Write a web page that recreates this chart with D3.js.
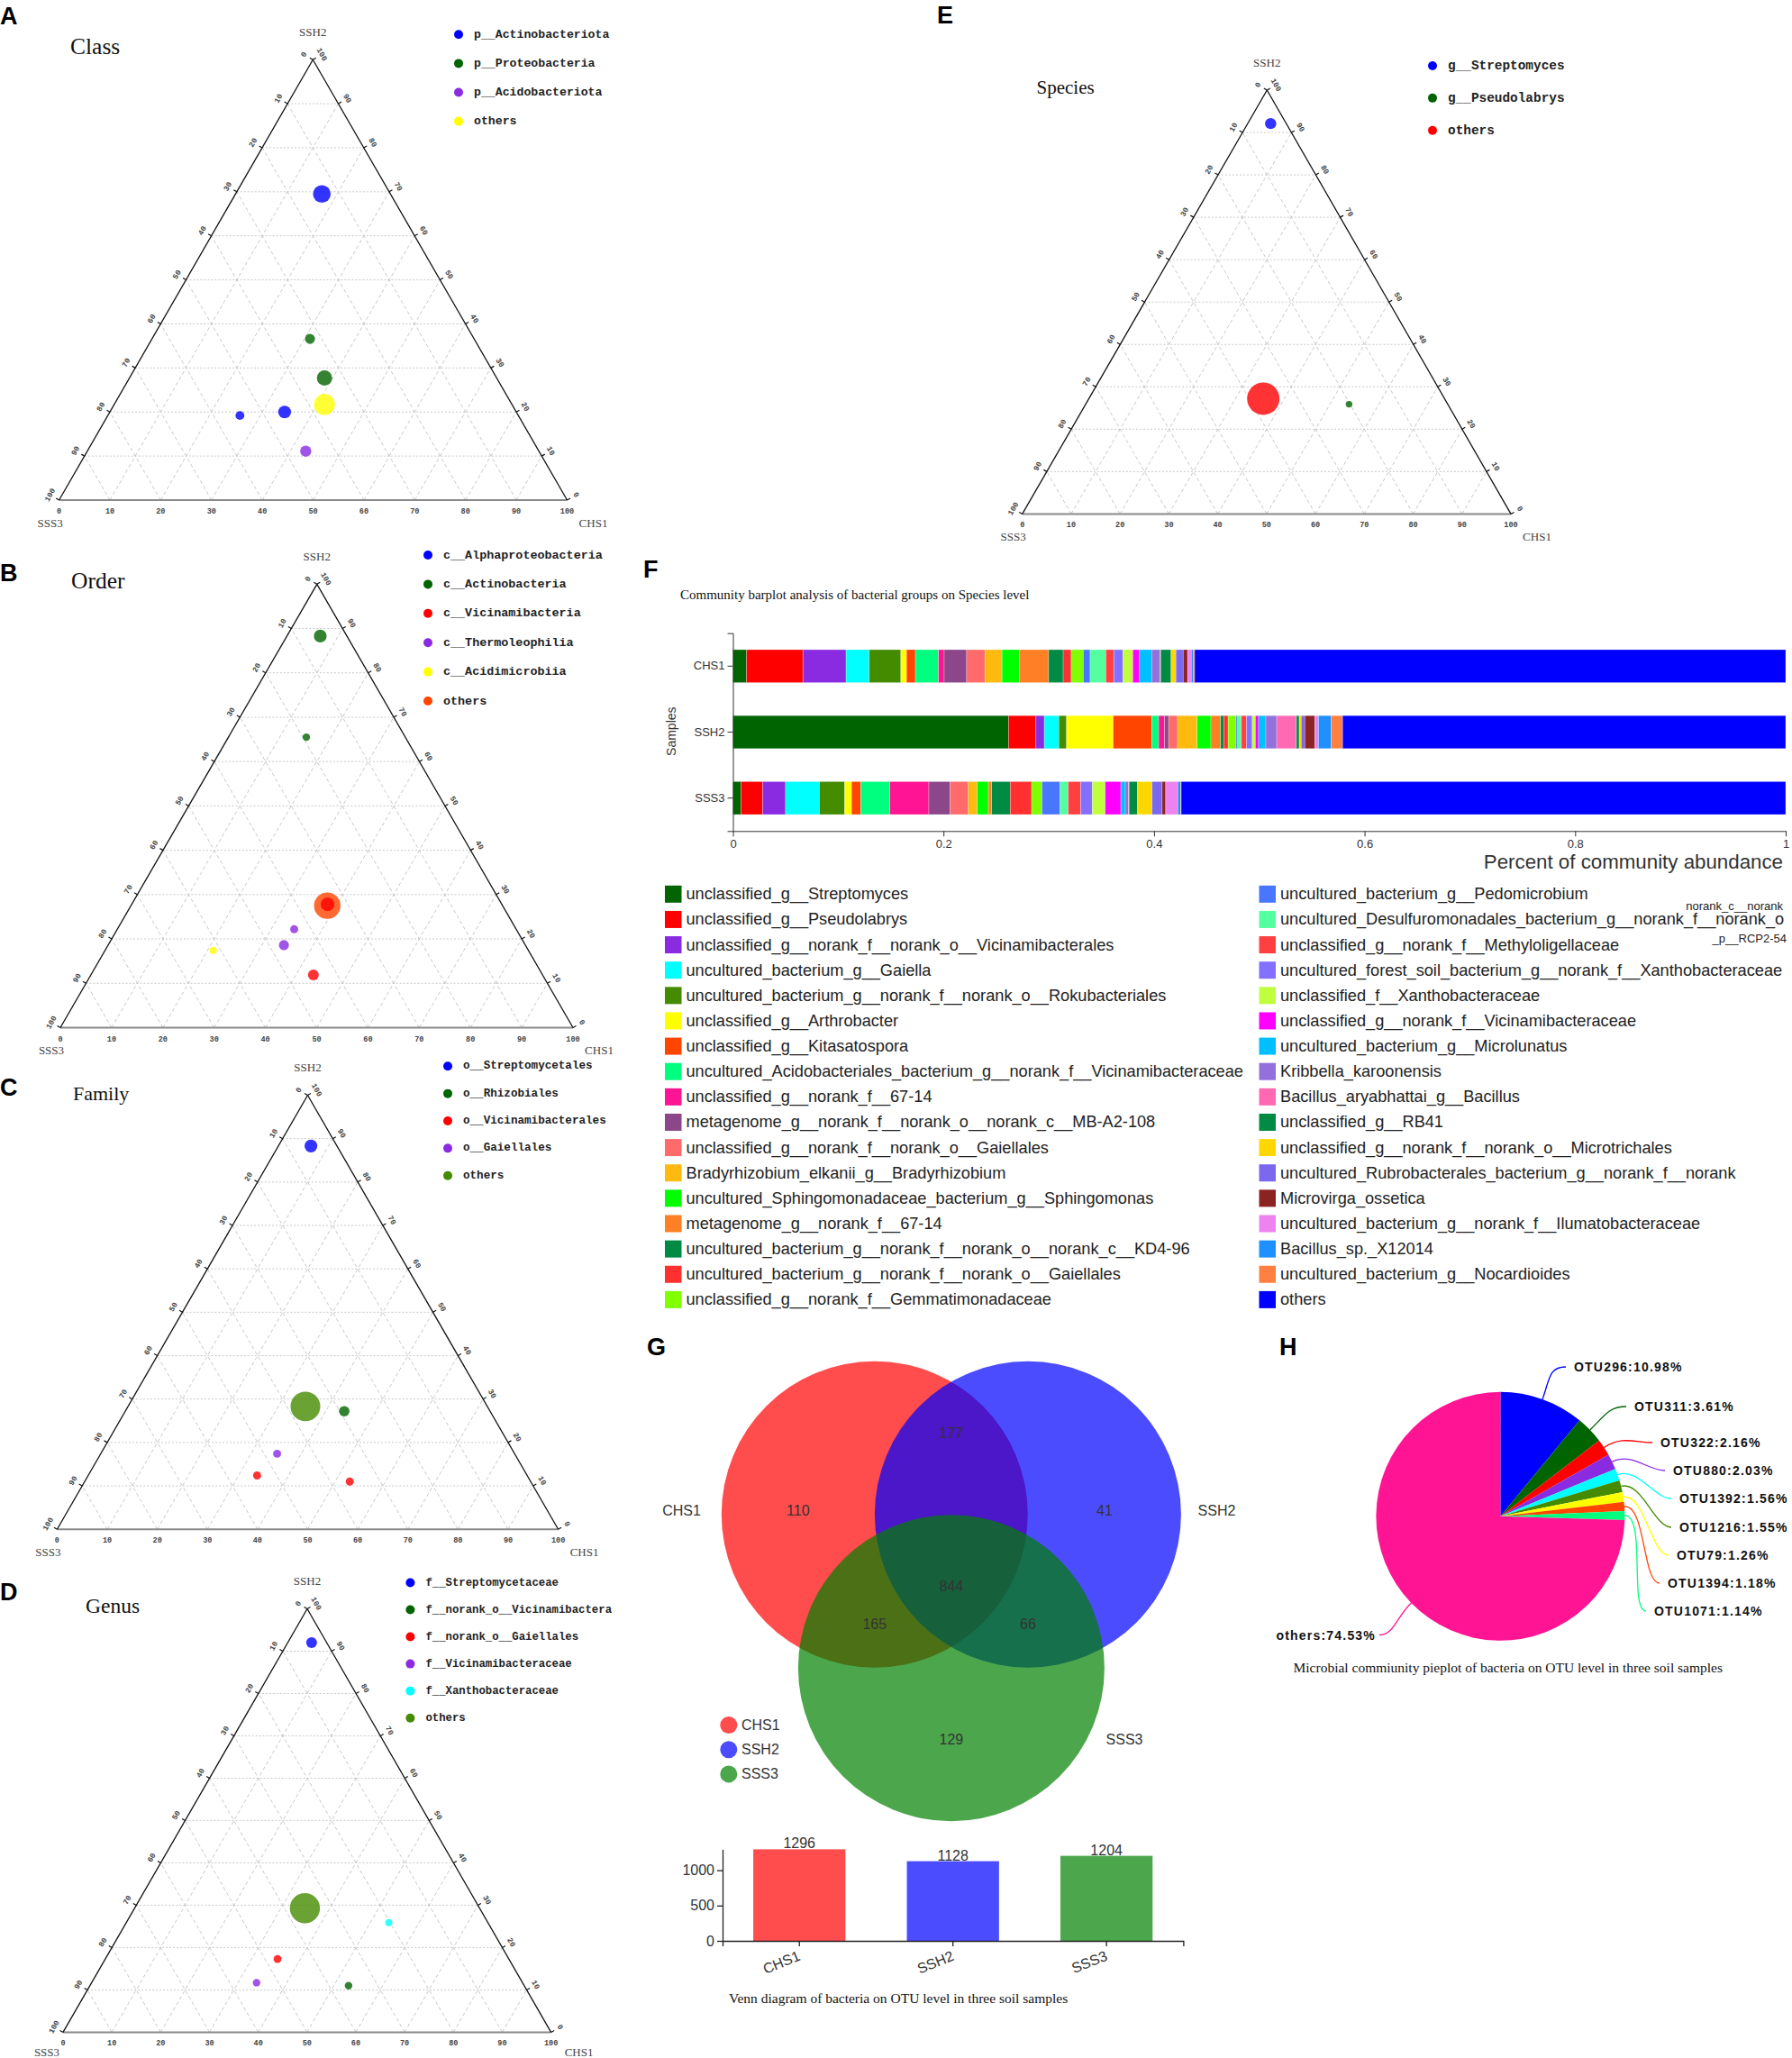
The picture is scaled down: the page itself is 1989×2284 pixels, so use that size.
<!DOCTYPE html>
<html><head><meta charset="utf-8">
<script src="https://cdn.jsdelivr.net/npm/d3@7"></script>
<style>
html,body{margin:0;padding:0;background:#fff;}
svg{display:block;}
</style></head><body>
<svg id="fig" width="1989" height="2284"></svg>
<script>
// ===================== DATA =====================
// --- Ternary panels: group names, and points (percent in CHS1 / SSH2 / SSS3, relative abundance) ---
const classGroups = ["p__Actinobacteriota","p__Proteobacteria","p__Acidobacteriota","others"];
const classPoints = [
  {group:"p__Actinobacteriota", CHS1:17.0, SSH2:69.5, SSS3:13.5, abundance:24},
  {group:"p__Proteobacteria",   CHS1:31.1, SSH2:36.6, SSS3:32.3, abundance:7.8},
  {group:"p__Proteobacteria",   CHS1:38.4, SSH2:27.7, SSS3:33.9, abundance:18},
  {group:"others",              CHS1:41.4, SSH2:21.7, SSS3:36.9, abundance:33.6},
  {group:"p__Actinobacteriota", CHS1:26.0, SSH2:19.2, SSS3:54.8, abundance:6},
  {group:"p__Actinobacteriota", CHS1:34.4, SSH2:20.0, SSS3:45.6, abundance:12.6},
  {group:"p__Acidobacteriota",  CHS1:43.0, SSH2:11.1, SSS3:45.9, abundance:9.6}
];
const orderGroups = ["c__Alphaproteobacteria","c__Actinobacteria","c__Vicinamibacteria","c__Thermoleophilia","c__Acidimicrobiia","others"];
const orderPoints = [
  {group:"c__Actinobacteria",   CHS1:6.5,  SSH2:88.3, SSS3:5.2,  abundance:12.6},
  {group:"c__Actinobacteria",   CHS1:15.2, SSH2:65.5, SSS3:19.3, abundance:4.4},
  {group:"others",              CHS1:38.3, SSH2:27.5, SSS3:34.2, abundance:54},
  {group:"c__Vicinamibacteria", CHS1:38.2, SSH2:27.8, SSS3:34.0, abundance:14.4},
  {group:"c__Thermoleophilia",  CHS1:34.5, SSH2:22.2, SSS3:43.3, abundance:5},
  {group:"c__Thermoleophilia",  CHS1:34.3, SSH2:18.6, SSS3:47.1, abundance:7.8},
  {group:"c__Acidimicrobiia",   CHS1:21.1, SSH2:17.4, SSS3:61.5, abundance:4.4},
  {group:"c__Vicinamibacteria", CHS1:43.4, SSH2:11.9, SSS3:44.7, abundance:9}
];
const familyGroups = ["o__Streptomycetales","o__Rhizobiales","o__Vicinamibacterales","o__Gaiellales","others"];
const familyPoints = [
  {group:"o__Streptomycetales",   CHS1:6.5,  SSH2:88.3, SSS3:5.2,  abundance:12.6},
  {group:"others",                CHS1:35.4, SSH2:28.3, SSS3:36.3, abundance:68},
  {group:"o__Rhizobiales",        CHS1:43.7, SSH2:27.2, SSS3:29.1, abundance:8.4},
  {group:"o__Gaiellales",         CHS1:35.2, SSH2:17.4, SSS3:47.4, abundance:5},
  {group:"o__Vicinamibacterales", CHS1:33.7, SSH2:12.4, SSS3:53.9, abundance:5},
  {group:"o__Vicinamibacterales", CHS1:52.9, SSH2:11.0, SSS3:36.1, abundance:5}
];
const genusGroups = ["f__Streptomycetaceae","f__norank_o__Vicinamibactera","f__norank_o__Gaiellales","f__Vicinamibacteraceae","f__Xanthobacteraceae","others"];
const genusPoints = [
  {group:"f__Streptomycetaceae",         CHS1:4.9,  SSH2:92.0, SSS3:3.1,  abundance:9},
  {group:"others",                       CHS1:34.9, SSH2:29.3, SSS3:35.8, abundance:70},
  {group:"f__Xanthobacteraceae",         CHS1:53.8, SSH2:25.9, SSS3:20.3, abundance:4},
  {group:"f__norank_o__Gaiellales",      CHS1:35.3, SSH2:17.3, SSS3:47.4, abundance:5},
  {group:"f__Vicinamibacteraceae",       CHS1:33.8, SSH2:11.7, SSS3:54.5, abundance:4.4},
  {group:"f__norank_o__Vicinamibactera", CHS1:53.0, SSH2:11.0, SSS3:36.0, abundance:4.4}
];
const speciesGroups = ["g__Streptomyces","g__Pseudolabrys","others"];
const speciesPoints = [
  {group:"g__Streptomyces", CHS1:4.7,  SSH2:92.1, SSS3:3.2,  abundance:9.6},
  {group:"others",          CHS1:35.7, SSH2:27.2, SSS3:37.1, abundance:81},
  {group:"g__Pseudolabrys", CHS1:53.9, SSH2:25.9, SSS3:20.2, abundance:3.4}
];
const ternaryTicks = [0,10,20,30,40,50,60,70,80,90,100];

// --- Panel F: community barplot ---
const sampleNames = ["CHS1","SSH2","SSS3"];
const speciesNames = [
  "unclassified_g__Streptomyces","unclassified_g__Pseudolabrys","unclassified_g__norank_f__norank_o__Vicinamibacterales",
  "uncultured_bacterium_g__Gaiella","uncultured_bacterium_g__norank_f__norank_o__Rokubacteriales","unclassified_g__Arthrobacter",
  "unclassified_g__Kitasatospora","uncultured_Acidobacteriales_bacterium_g__norank_f__Vicinamibacteraceae","unclassified_g__norank_f__67-14",
  "metagenome_g__norank_f__norank_o__norank_c__MB-A2-108","unclassified_g__norank_f__norank_o__Gaiellales","Bradyrhizobium_elkanii_g__Bradyrhizobium",
  "uncultured_Sphingomonadaceae_bacterium_g__Sphingomonas","metagenome_g__norank_f__67-14","uncultured_bacterium_g__norank_f__norank_o__norank_c__KD4-96",
  "uncultured_bacterium_g__norank_f__norank_o__Gaiellales","unclassified_g__norank_f__Gemmatimonadaceae",
  "uncultured_bacterium_g__Pedomicrobium","uncultured_Desulfuromonadales_bacterium_g__norank_f__norank_o__norank_c__norank_p__RCP2-54",
  "unclassified_g__norank_f__Methyloligellaceae","uncultured_forest_soil_bacterium_g__norank_f__Xanthobacteraceae","unclassified_f__Xanthobacteraceae",
  "unclassified_g__norank_f__Vicinamibacteraceae","uncultured_bacterium_g__Microlunatus","Kribbella_karoonensis","Bacillus_aryabhattai_g__Bacillus",
  "unclassified_g__RB41","unclassified_g__norank_f__norank_o__Microtrichales","uncultured_Rubrobacterales_bacterium_g__norank_f__norank",
  "Microvirga_ossetica","uncultured_bacterium_g__norank_f__Ilumatobacteraceae","Bacillus_sp._X12014","uncultured_bacterium_g__Nocardioides","others"
];
const chs1Abund = [0.013,0.0535,0.041,0.022,0.030,0.0054,0.0084,0.022,0.0054,0.0213,0.0176,0.016,0.0168,0.0275,0.0138,0.0076,0.0115,
  0.0065,0.0149,0.0076,0.0088,0.0092,0.0065,0.0115,0.008,0.0005,0.0099,0.0046,0.0069,0.0042,0.0035,0.002,0.0012,0.5614];
const ssh2Abund = [0.2618,0.026,0.008,0.0138,0.0073,0.0443,0.0367,0.0065,0.0057,0.0038,0.0084,0.0187,0.013,0.0092,0.003,0.0042,0.0076,
  0.0015,0.0034,0.005,0.0054,0.003,0.003,0.0069,0.0103,0.0187,0.0027,0.0019,0.0034,0.0096,0.0034,0.0122,0.0107,0.4209];
const sss3Abund = [0.0076,0.0206,0.0218,0.0321,0.0241,0.0065,0.0088,0.0275,0.0371,0.0203,0.0172,0.0084,0.0107,0.0031,0.0176,0.0203,0.0099,
  0.0172,0.0076,0.0119,0.0111,0.0122,0.0149,0.0042,0.0031,0.0005,0.008,0.0138,0.0096,0.0034,0.0115,0.0027,0.0005,0.5742];
const barTicks = [0,0.2,0.4,0.6,0.8,1];

// --- Panel G: Venn ---
const vennSets = ["CHS1","SSH2","SSS3"];
const vennRegions = ["CHS1","SSH2","SSS3","CHS1&SSH2","CHS1&SSS3","SSH2&SSS3","CHS1&SSH2&SSS3"];
const vennCounts = [110,41,129,177,165,66,844];
const setTotals = [1296,1128,1204];
const setTicks = [0,500,1000];

// --- Panel H: pie ---
const otuNames = ["OTU296","OTU311","OTU322","OTU880","OTU1392","OTU1216","OTU79","OTU1394","OTU1071","others"];
const otuPercent = [10.98,3.61,2.16,2.03,1.56,1.55,1.26,1.18,1.14,74.53];

// ===================== STYLES =====================
const classColors = ["#0000FF","#006400","#8A2BE2","#FFFF00"];
const orderColors = ["#0000FF","#006400","#FF0000","#8A2BE2","#FFFF00","#FF4500"];
const familyColors = ["#0000FF","#006400","#FF0000","#8A2BE2","#458B00"];
const genusColors = ["#0000FF","#006400","#FF0000","#8A2BE2","#00FFFF","#458B00"];
const speciesColorsE = ["#0000FF","#006400","#FF0000"];
const speciesColors = ["#006400","#FF0000","#8A2BE2","#00FFFF","#458B00","#FFFF00","#FF4500","#00FF7F","#FF1493","#8B4789",
  "#FF6A6A","#FFB90F","#00FF00","#FF7F24","#008B45","#FF3030","#7FFF00","#4876FF","#54FF9F","#FF4040","#8470FF","#C0FF3E",
  "#FF00FF","#00BFFF","#9370DB","#FF69B4","#008B45","#FFD700","#7B68EE","#8B2323","#EE82EE","#1E90FF","#FF8040","#0000FF"];
const vennColors = ["#FF0000","#0000FF","#008000"];
const otuColors = ["#0000FF","#006400","#FF0000","#8A2BE2","#00FFFF","#458B00","#FFFF00","#FF4500","#00FF7F","#FF1493"];

const SANS = "'Liberation Sans', Arial, sans-serif";
const SERIF = "'Liberation Serif', 'Times New Roman', serif";
const MONO = "'Liberation Mono', 'DejaVu Sans Mono', monospace";

const svg = d3.select("#fig");

// ===================== TERNARY =====================
function drawTernary(cfg) {
  const g = svg.append("g");
  const [ax, ay] = cfg.apex, [lx, ly] = cfg.bl, [rx] = cfg.br;
  const yS = d3.scaleLinear().domain([0,100]).range([ly, ay]);      // SSH2 -> y
  const xC = d3.scaleLinear().domain([0,100]).range([0, rx - lx]);  // CHS1 -> x shift
  const xS = d3.scaleLinear().domain([0,100]).range([0, ax - lx]);  // SSH2 -> x shift
  const pos = (a, b) => [lx + xC(a) + xS(b), yS(b)];
  const color = d3.scaleOrdinal().domain(cfg.groups).range(cfg.colors);
  const rScale = d3.scaleSqrt().domain([0,100]).range([0,20]);

  const inner = ternaryTicks.filter(v => v > 0 && v < 100);
  const grid = [];
  inner.forEach(v => {
    grid.push({p:[pos(0,v), pos(100-v,v)], dash:"2,2"});
    grid.push({p:[pos(v,0), pos(v,100-v)], dash:"4,3"});
    grid.push({p:[pos(100-v,0), pos(0,100-v)], dash:"4,3"});
  });
  g.selectAll("line.grid").data(grid).join("line").attr("class","grid")
    .attr("x1",d=>d.p[0][0]).attr("y1",d=>d.p[0][1]).attr("x2",d=>d.p[1][0]).attr("y2",d=>d.p[1][1])
    .attr("stroke","#c8c8c8").attr("stroke-width",1).attr("stroke-dasharray",d=>d.dash);

  const A = pos(0,100), L = pos(0,0), R = pos(100,0);
  g.append("line").attr("x1",L[0]).attr("y1",L[1]).attr("x2",R[0]).attr("y2",R[1]).attr("stroke","#8a8a8a").attr("stroke-width",2);
  g.append("line").attr("x1",A[0]).attr("y1",A[1]).attr("x2",L[0]).attr("y2",L[1]).attr("stroke","#111").attr("stroke-width",1.3);
  g.append("line").attr("x1",A[0]).attr("y1",A[1]).attr("x2",R[0]).attr("y2",R[1]).attr("stroke","#111").attr("stroke-width",1.3);

  const norm = v => { const l = Math.hypot(v[0], v[1]); return [v[0]/l, v[1]/l]; };
  const dL = [A[0]-L[0], A[1]-L[1]], dR = [R[0]-A[0], R[1]-A[1]];
  const nL = norm([dL[1], -dL[0]]), nR = norm([-dR[1], dR[0]]);
  nR[0] = Math.abs(nR[0]); nR[1] = -Math.abs(nR[1]);
  const angL = Math.atan2(dL[1], dL[0]) * 180/Math.PI, angR = Math.atan2(dR[1], dR[0]) * 180/Math.PI;
  const tf = cfg.tickFont;
  const tickStyle = s => s.attr("font-family", MONO).attr("font-weight","bold").attr("font-size", tf).attr("fill","#444")
      .attr("text-anchor","middle").attr("dominant-baseline","central");

  ternaryTicks.forEach(v => {
    const p = pos(0, 100 - v);
    g.append("line").attr("x1",p[0]).attr("y1",p[1]).attr("x2",p[0]+nL[0]*4).attr("y2",p[1]+nL[1]*4).attr("stroke","#111").attr("stroke-width",1.2);
    const t = [p[0]+nL[0]*11, p[1]+nL[1]*11];
    g.append("text").text(v).attr("transform",`translate(${t[0]},${t[1]}) rotate(${angL})`).call(tickStyle);
  });
  ternaryTicks.forEach(v => {
    const p = pos(100 - v, v);
    g.append("line").attr("x1",p[0]).attr("y1",p[1]).attr("x2",p[0]+nR[0]*4).attr("y2",p[1]+nR[1]*4).attr("stroke","#111").attr("stroke-width",1.2);
    const t = [p[0]+nR[0]*11, p[1]+nR[1]*11];
    g.append("text").text(v).attr("transform",`translate(${t[0]},${t[1]}) rotate(${angR})`).call(tickStyle);
  });
  ternaryTicks.forEach(v => {
    const p = pos(v, 0);
    g.append("text").text(v).attr("x",p[0]).attr("y",p[1]+13).call(tickStyle);
  });

  const lab = s => s.attr("font-family", SERIF).attr("font-size", 13).attr("fill","#444").attr("text-anchor","middle").attr("dominant-baseline","central");
  const clamped = L[1] + 25 > 2276;
  const cornerY = clamped ? 2277 : L[1] + 25;
  g.append("text").text("SSH2").attr("x",A[0]).attr("y",A[1]-31).call(lab);
  g.append("text").text("SSS3").attr("x",L[0] - (clamped ? 18 : 10)).attr("y",cornerY).call(lab);
  g.append("text").text("CHS1").attr("x",R[0] + (clamped ? 31 : 29)).attr("y",cornerY).call(lab);

  const lg = g.append("g");
  cfg.groups.forEach((grp, i) => {
    const y = cfg.legend[1] + i * cfg.legendStep;
    lg.append("circle").attr("cx",cfg.legend[0]).attr("cy",y).attr("r",5).attr("fill",color(grp));
    lg.append("text").text(grp).attr("x",cfg.legend[0]+17).attr("y",y).attr("dominant-baseline","central")
      .attr("font-family",MONO).attr("font-weight","bold").attr("font-size",cfg.legendFont).attr("fill","#222");
  });

  const pts = cfg.points.slice().sort((a,b)=>b.abundance-a.abundance);
  g.selectAll("circle.pt").data(pts).join("circle").attr("class","pt")
    .attr("cx",d=>pos(d.CHS1,d.SSH2)[0]).attr("cy",d=>pos(d.CHS1,d.SSH2)[1])
    .attr("r",d=>rScale(d.abundance)).attr("fill",d=>color(d.group)).attr("fill-opacity",0.8);

  g.append("text").text(cfg.letter).attr("x",cfg.letterPos[0]).attr("y",cfg.letterPos[1])
    .attr("font-family",SANS).attr("font-weight","bold").attr("font-size",27).attr("fill","#000");
  g.append("text").text(cfg.title).attr("x",cfg.titlePos[0]).attr("y",cfg.titlePos[1])
    .attr("font-family",SERIF).attr("font-size",cfg.titleSize).attr("fill","#111");
}

drawTernary({apex:[347.3,66.2], bl:[65.6,555], br:[629.5,555], groups:classGroups, colors:classColors, points:classPoints,
  legend:[509,38.3], legendStep:32.1, legendFont:13.2, tickFont:8.5, letter:"A", letterPos:[0,27], title:"Class", titlePos:[78,60], titleSize:25.5});
drawTernary({apex:[351.8,648.3], bl:[67,1140.5], br:[636,1140.5], groups:orderGroups, colors:orderColors, points:orderPoints,
  legend:[475,616], legendStep:32.4, legendFont:13.4, tickFont:8.5, letter:"B", letterPos:[0,645], title:"Order", titlePos:[79,652.5], titleSize:25.5});
drawTernary({apex:[341.5,1215.5], bl:[63.4,1697.2], br:[619.6,1697.2], groups:familyGroups, colors:familyColors, points:familyPoints,
  legend:[497,1183.3], legendStep:30.35, legendFont:12.6, tickFont:8.5, letter:"C", letterPos:[0,1216], title:"Family", titlePos:[81,1221], titleSize:22});
drawTernary({apex:[341,1785.5], bl:[70,2255.4], br:[611.6,2255.4], groups:genusGroups, colors:genusColors, points:genusPoints,
  legend:[455.4,1756.5], legendStep:30.04, legendFont:12.3, tickFont:8.5, letter:"D", letterPos:[0,1776], title:"Genus", titlePos:[95,1790], titleSize:23.5});
drawTernary({apex:[1406.3,100], bl:[1134.7,570.4], br:[1677,570.4], groups:speciesGroups, colors:speciesColorsE, points:speciesPoints,
  legend:[1590,73], legendStep:35.85, legendFont:14.4, tickFont:8.5, letter:"E", letterPos:[1040,26], title:"Species", titlePos:[1150.5,104], titleSize:21});

// ===================== PANEL F =====================
(function(){
  const g = svg.append("g");
  const x = d3.scaleLinear().domain([0,1]).range([813.5,1982]);
  const y = d3.scaleBand().domain(sampleNames).range([702.7,922.3]).paddingInner(0.5).paddingOuter(0.25);
  const abund = [chs1Abund, ssh2Abund, sss3Abund];
  const rows = sampleNames.map((s,i) => { const o = {sample:s}; speciesNames.forEach((n,j)=>{ o[n] = abund[i][j]; }); return o; });
  const series = d3.stack().keys(speciesNames)(rows);
  g.selectAll("g.ser").data(series).join("g").attr("class","ser").attr("fill",(d,i)=>speciesColors[i])
    .selectAll("rect").data(d=>d).join("rect")
    .attr("x",d=>x(d[0])).attr("y",d=>y(d.data.sample)).attr("width",d=>Math.max(0,x(d[1])-x(d[0]))).attr("height",y.bandwidth())
    .attr("stroke","#ffffff").attr("stroke-opacity",0.45).attr("stroke-width",0.6);

  const xa = g.append("g").attr("transform","translate(0,922.3)")
    .call(d3.axisBottom(x).tickValues(barTicks).tickFormat(d3.format("~g")).tickSize(6).tickSizeOuter(0));
  const ya = g.append("g").attr("transform","translate(813.5,0)")
    .call(d3.axisLeft(y).tickSize(6).tickSizeOuter(6));
  [xa, ya].forEach(a => {
    a.selectAll("text").attr("font-family",SANS).attr("font-size",13).attr("fill","#333");
    a.selectAll("path,line").attr("stroke","#333");
  });

  g.append("text").text("Samples").attr("transform","translate(744.5,811.7) rotate(-90)").attr("text-anchor","middle")
    .attr("dominant-baseline","central").attr("font-family",SANS).attr("font-size",14).attr("fill","#333");
  g.append("text").text("Percent of community abundance").attr("x",1979).attr("y",964).attr("text-anchor","end")
    .attr("font-family",SANS).attr("font-size",22.3).attr("fill","#333");
  g.append("text").text("Community barplot analysis of bacterial groups on Species level").attr("x",755).attr("y",665)
    .attr("font-family",SERIF).attr("font-size",15).attr("fill","#111");
  g.append("text").text("F").attr("x",714).attr("y",641).attr("font-family",SANS).attr("font-weight","bold").attr("font-size",27);

  const colX = [738, 1397.5];
  speciesNames.forEach((name, i) => {
    const col = i < 17 ? 0 : 1, row = i < 17 ? i : i - 17;
    const cy = 992.3 + row * 28.13;
    g.append("rect").attr("x",colX[col]).attr("y",cy-9.5).attr("width",18.5).attr("height",19).attr("fill",speciesColors[i]);
    const ts = s => s.attr("font-family",SANS).attr("fill","#222").attr("dominant-baseline","central");
    if (name.length > 75) {
      const main = name.slice(0, name.indexOf("__norank_c"));
      g.append("text").text(main).attr("x",colX[col]+23.5).attr("y",cy).attr("font-size",18.2).call(ts);
      g.append("text").text("norank_c__norank").attr("x",1979).attr("y",cy-15).attr("text-anchor","end").attr("font-size",13).call(ts);
      g.append("text").text("_p__RCP2-54").attr("x",1983).attr("y",cy+21).attr("text-anchor","end").attr("font-size",13).call(ts);
    } else {
      g.append("text").text(name).attr("x",colX[col]+23.5).attr("y",cy).attr("font-size",18.2).call(ts);
    }
  });
})();

// ===================== PANEL G =====================
(function(){
  const g = svg.append("g");
  const r = 170;
  const centers = {CHS1:[970.8,1680.7], SSH2:[1140.9,1680.7], SSS3:[1055.9,1851.2]};
  vennSets.forEach((s,i) => {
    g.append("circle").attr("cx",centers[s][0]).attr("cy",centers[s][1]).attr("r",r)
      .attr("fill",vennColors[i]).attr("fill-opacity",0.7);
  });
  const C = centers.CHS1, S = centers.SSH2, T = centers.SSS3;
  const regionPos = {
    "CHS1":[C[0]-85, C[1]-4.7], "SSH2":[S[0]+85, S[1]-4.7], "SSS3":[T[0], T[1]+79.5],
    "CHS1&SSH2":[(C[0]+S[0])/2, C[1]-90], "CHS1&SSS3":[C[0], T[1]-48.6], "SSH2&SSS3":[S[0], T[1]-48.6],
    "CHS1&SSH2&SSS3":[T[0], T[1]-91]
  };
  const ts = s => s.attr("font-family",SANS).attr("font-size",16).attr("fill","#333").attr("dominant-baseline","central");
  vennRegions.forEach((k,i) => {
    g.append("text").text(vennCounts[i]).attr("x",regionPos[k][0]).attr("y",regionPos[k][1]).attr("text-anchor","middle").call(ts);
  });
  g.append("text").text("CHS1").attr("x",756.6).attr("y",C[1]-4.7).attr("text-anchor","middle").call(ts);
  g.append("text").text("SSH2").attr("x",1350.5).attr("y",S[1]-4.7).attr("text-anchor","middle").call(ts);
  g.append("text").text("SSS3").attr("x",1248).attr("y",T[1]+79.5).attr("text-anchor","middle").call(ts);
  vennSets.forEach((s,i) => {
    const y = 1914.5 + i*27.2;
    g.append("circle").attr("cx",808.8).attr("cy",y).attr("r",9.5).attr("fill",vennColors[i]).attr("fill-opacity",0.7);
    g.append("text").text(s).attr("x",823).attr("y",y).call(ts);
  });

  const x = d3.scaleBand().domain(vennSets).range([802,1313.4]).paddingInner(0.4).paddingOuter(0.2);
  const y = d3.scaleLinear().domain([0, d3.max(setTotals)]).range([2154,2052.4]);
  g.selectAll("rect.sb").data(setTotals).join("rect").attr("class","sb")
    .attr("x",(d,i)=>x(vennSets[i])).attr("y",d=>y(d)).attr("width",x.bandwidth()).attr("height",d=>y(0)-y(d))
    .attr("fill",(d,i)=>vennColors[i]).attr("fill-opacity",0.7);
  g.selectAll("text.sv").data(setTotals).join("text").attr("class","sv").text(d=>d)
    .attr("x",(d,i)=>x(vennSets[i])+x.bandwidth()/2).attr("y",d=>y(d)-1).attr("text-anchor","middle")
    .attr("font-family",SANS).attr("font-size",16).attr("fill","#333");
  const ya = g.append("g").attr("transform","translate(802,0)")
    .call(d3.axisLeft(y).tickValues(setTicks).tickFormat(d3.format("d")).tickSize(6).tickSizeOuter(0));
  const xa = g.append("g").attr("transform","translate(0,2154)").call(d3.axisBottom(x).tickSize(6).tickSizeOuter(6));
  [xa, ya].forEach(a => {
    a.selectAll("text").attr("font-family",SANS).attr("font-size",16).attr("fill","#333");
    a.selectAll("path,line").attr("stroke","#222").attr("stroke-width",1.3);
  });
  xa.selectAll(".tick text").attr("text-anchor","end").attr("dy",null).attr("y",null)
    .attr("transform","translate(2,21) rotate(-22)");
  g.append("text").text("Venn diagram of bacteria on OTU level in three soil samples").attr("x",809).attr("y",2223)
    .attr("font-family",SERIF).attr("font-size",15.5).attr("fill","#111");
  g.append("text").text("G").attr("x",718).attr("y",1504).attr("font-family",SANS).attr("font-weight","bold").attr("font-size",27);
})();

// ===================== PANEL H =====================
(function(){
  const g = svg.append("g");
  const cx = 1665.4, cy = 1682.8, R = 138;
  const arcs = d3.pie().sort(null).value(d=>d)(otuPercent);
  const arc = d3.arc().innerRadius(0).outerRadius(R);
  g.selectAll("path.sl").data(arcs).join("path").attr("class","sl")
    .attr("transform",`translate(${cx},${cy})`).attr("d",arc).attr("fill",(d,i)=>otuColors[i]);
  const labelPos = [[1747,1517],[1814,1561],[1843,1601],[1857,1632],[1864,1663],[1864,1695],[1861,1726],[1851,1757],[1836,1788],[1527,1814.5]];
  const pt = (ang, rr) => [cx + rr*Math.sin(ang), cy - rr*Math.cos(ang)];
  arcs.forEach((d,i) => {
    const m = (d.startAngle + d.endAngle)/2;
    const p0 = pt(m, R), p1 = pt(m, R + 24);
    const [lx, ly] = labelPos[i];
    const isLeft = i === arcs.length - 1;
    const p2 = isLeft ? [lx + 20, ly] : [lx - 28, ly];
    const p3 = isLeft ? [lx + 4, ly] : [lx - 9, ly];
    const path = d3.path();
    path.moveTo(p0[0], p0[1]);
    path.bezierCurveTo(p1[0], p1[1], p2[0], p2[1], p3[0], p3[1]);
    g.append("path").attr("d", path.toString()).attr("fill","none").attr("stroke",otuColors[i]).attr("stroke-width",1.3);
    g.append("text").text(`${otuNames[i]}:${otuPercent[i].toFixed(2)}%`).attr("x",lx).attr("y",ly)
      .attr("text-anchor", isLeft ? "end" : "start").attr("dominant-baseline","central")
      .attr("font-family",SANS).attr("font-weight","bold").attr("font-size",14).attr("letter-spacing","1.2px").attr("fill","#111");
  });
  g.append("text").text("Microbial commiunity pieplot of bacteria on OTU level in three soil samples").attr("x",1435.5).attr("y",1856)
    .attr("font-family",SERIF).attr("font-size",15.5).attr("fill","#111");
  g.append("text").text("H").attr("x",1420).attr("y",1504).attr("font-family",SANS).attr("font-weight","bold").attr("font-size",27);
})();
</script>
</body></html>
